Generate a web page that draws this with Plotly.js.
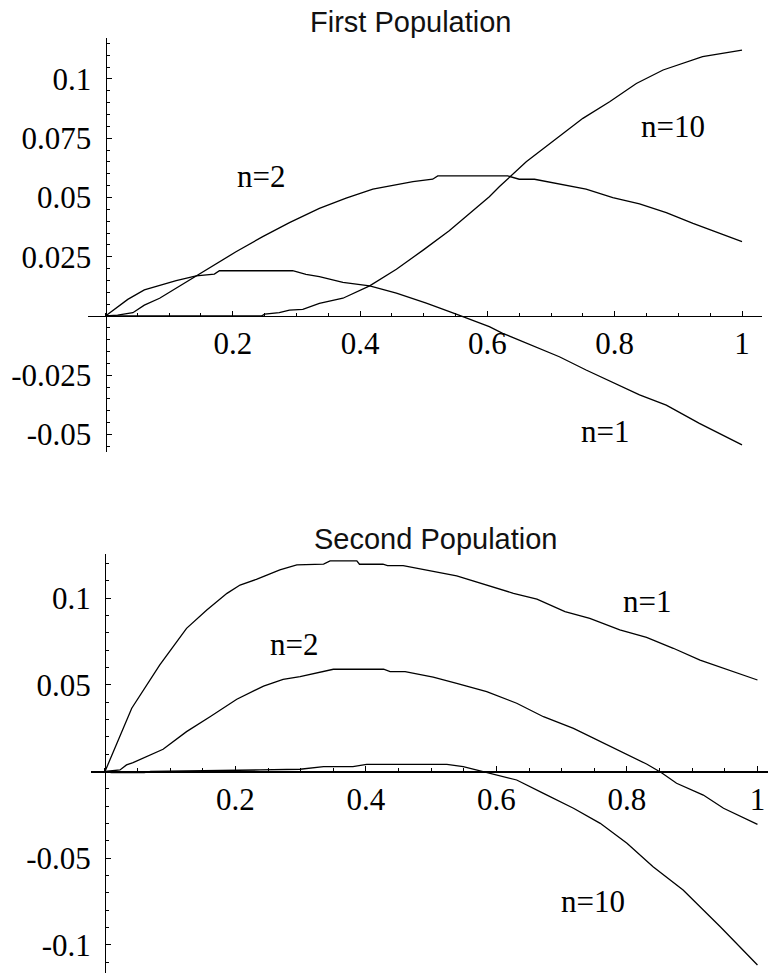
<!DOCTYPE html>
<html>
<head>
<meta charset="utf-8">
<script src="https://cdn.plot.ly/plotly-3.0.1.min.js"></script>
<style>
html,body{margin:0;padding:0;background:#fff;}
#chart{width:769px;height:974px;}
</style>
</head>
<body>
<div id="chart"></div>
<script>
// ---------- DATA ----------
// First Population
const firstN1X = [0, 0.035, 0.061, 0.085, 0.111, 0.1425, 0.171, 0.179, 0.294, 0.315, 0.336, 0.373, 0.415, 0.457, 0.504, 0.551, 0.603, 0.624, 0.713, 0.755, 0.839, 0.881, 0.933, 1.0];
const firstN1Y = [0, 0.0070, 0.0110, 0.0128, 0.0149, 0.0169, 0.0177, 0.0191, 0.0191, 0.0176, 0.0166, 0.0142, 0.0127, 0.0096, 0.0054, 0.0008, -0.0045, -0.0073, -0.0172, -0.0228, -0.0333, -0.0376, -0.0453, -0.0544];

const firstN2X = [0, 0.019, 0.043, 0.061, 0.085, 0.111, 0.1425, 0.174, 0.205, 0.247, 0.289, 0.336, 0.378, 0.42, 0.462, 0.483, 0.514, 0.522, 0.632, 0.650, 0.674, 0.713, 0.755, 0.797, 0.839, 0.881, 0.923, 1.0];
const firstN2Y = [0, 0.0004, 0.0014, 0.0046, 0.0075, 0.0117, 0.0169, 0.0222, 0.0271, 0.0335, 0.0394, 0.0454, 0.0497, 0.0535, 0.0555, 0.0567, 0.0577, 0.0591, 0.0591, 0.0577, 0.0577, 0.0557, 0.0535, 0.0499, 0.0473, 0.0436, 0.0391, 0.0314];

const firstN10X = [0, 0.245, 0.25, 0.273, 0.289, 0.31, 0.336, 0.373, 0.415, 0.457, 0.499, 0.540, 0.603, 0.619, 0.661, 0.750, 0.792, 0.834, 0.876, 0.938, 1.0];
const firstN10Y = [0, 0, 0.0008, 0.0014, 0.0025, 0.0028, 0.0053, 0.0075, 0.0127, 0.0197, 0.0278, 0.0360, 0.0503, 0.0546, 0.0651, 0.0834, 0.0904, 0.0981, 0.1038, 0.1094, 0.1122];

// Second Population
const secondN1X = [0, 0.041, 0.084, 0.125, 0.156, 0.187, 0.207, 0.232, 0.268, 0.294, 0.335, 0.345, 0.386, 0.390, 0.426, 0.433, 0.457, 0.539, 0.626, 0.662, 0.705, 0.743, 0.789, 0.830, 0.871, 0.912, 1.0];
const secondN1Y = [0, 0.0365, 0.0615, 0.0826, 0.0932, 0.1028, 0.1076, 0.1109, 0.1163, 0.1192, 0.1197, 0.1215, 0.1215, 0.1196, 0.1196, 0.1188, 0.1188, 0.1129, 0.1028, 0.0994, 0.0922, 0.0884, 0.0817, 0.0774, 0.0711, 0.0643, 0.0528];

const secondN2X = [0, 0.023, 0.033, 0.043, 0.089, 0.125, 0.161, 0.202, 0.243, 0.273, 0.299, 0.335, 0.350, 0.427, 0.437, 0.460, 0.503, 0.539, 0.585, 0.631, 0.672, 0.718, 0.759, 0.800, 0.830, 0.853, 0.876, 0.917, 0.948, 1.0];
const secondN2Y = [0, 0.0009, 0.0038, 0.0051, 0.0128, 0.0230, 0.0316, 0.0417, 0.0493, 0.0532, 0.0547, 0.0576, 0.0590, 0.0590, 0.0576, 0.0576, 0.0544, 0.0509, 0.0461, 0.0394, 0.0316, 0.0249, 0.0172, 0.0095, 0.0043, -0.0007, -0.0068, -0.0136, -0.0212, -0.0305];

const secondN10X = [0, 0.01, 0.06, 0.07, 0.2375, 0.299, 0.335, 0.38, 0.401, 0.524, 0.549, 0.570, 0.590, 0.631, 0.672, 0.718, 0.759, 0.800, 0.840, 0.886, 0.943, 1.0];
const secondN10Y = [0, -0.0006, -0.0006, 0, 0.0009, 0.0013, 0.0028, 0.0028, 0.0041, 0.0041, 0.0028, 0.0009, -0.0010, -0.0049, -0.0126, -0.0212, -0.0299, -0.0414, -0.0549, -0.0684, -0.0896, -0.1117];

// Tick labels
const xTickVals = [0.2, 0.4, 0.6, 0.8, 1];
const xTickText = ["0.2", "0.4", "0.6", "0.8", "1"];
const firstYTickVals = [-0.05, -0.025, 0.025, 0.05, 0.075, 0.1];
const firstYTickText = ["-0.05", "-0.025", "0.025", "0.05", "0.075", "0.1"];
const secondYTickVals = [-0.1, -0.05, 0.05, 0.1];
const secondYTickText = ["-0.1", "-0.05", "0.05", "0.1"];

// Titles and curve labels
const titles = ["First Population", "Second Population"];
const firstLabels = ["n=2", "n=10", "n=1"];
const firstLabelX = [0.2446, 0.891, 0.784];
const firstLabelY = [0.0588, 0.0799, -0.0488];
const secondLabels = ["n=1", "n=2", "n=10"];
const secondLabelX = [0.830, 0.289, 0.748];
const secondLabelY = [0.098, 0.073, -0.0751];

// ---------- LAYOUT ----------
const W = 769, H = 974;
const fx = p => p / W;
const fy = p => 1 - p / H;

const serif = "Liberation Serif, Times New Roman, Times, serif";
const sans = "Liberation Sans, Arial, Helvetica, sans-serif";
const tickFont = {family: serif, size: 31, color: "#000"};

// pixel frames of each panel
const panelA = {xd: [fx(88), fx(762)], yd: [fy(451.7), fy(38.3)], xr: [-0.0275, 1.0314], yr: [-0.05726, 0.11717]};
const panelB = {xd: [fx(90.7), fx(768.3)], yd: [fy(973.3), fy(554.3)], xr: [-0.0219, 1.0166], yr: [-0.11645, 0.12533]};

function zeroPos(dom, r) {
  return dom[0] + (0 - r[0]) / (r[1] - r[0]) * (dom[1] - dom[0]);
}

function xAxis(p) {
  return {
    domain: p.xd, range: p.xr, anchor: "free", position: zeroPos(p.yd, p.yr),
    showline: true, linecolor: "#000", linewidth: 1.3,
    showgrid: false, zeroline: false,
    tickmode: "array", tickvals: xTickVals, ticktext: xTickText,
    ticks: "inside", ticklen: 5, tickwidth: 1, tickcolor: "#000",
    minor: {ticks: "inside", dtick: 0.05, tick0: 0, ticklen: 3, tickwidth: 1, tickcolor: "#000"},
    tickfont: tickFont, ticklabelstandoff: 0,
    fixedrange: true
  };
}
function yAxis(p, vals, text, minorStep) {
  return {
    domain: p.yd, range: p.yr, anchor: "free", position: zeroPos(p.xd, p.xr),
    showline: true, linecolor: "#000", linewidth: 1.3,
    showgrid: false, zeroline: false,
    tickmode: "array", tickvals: vals, ticktext: text,
    ticks: "inside", ticklen: 5, tickwidth: 1, tickcolor: "#000",
    minor: {ticks: "inside", dtick: minorStep, tick0: 0, ticklen: 3, tickwidth: 1, tickcolor: "#000"},
    tickfont: tickFont, ticklabelstandoff: 8,
    fixedrange: true
  };
}

const lineStyle = {color: "#000", width: 1.3};
const traces = [
  {x: firstN1X, y: firstN1Y, xaxis: "x", yaxis: "y", mode: "lines", line: lineStyle},
  {x: firstN2X, y: firstN2Y, xaxis: "x", yaxis: "y", mode: "lines", line: lineStyle},
  {x: firstN10X, y: firstN10Y, xaxis: "x", yaxis: "y", mode: "lines", line: lineStyle},
  {x: secondN1X, y: secondN1Y, xaxis: "x2", yaxis: "y2", mode: "lines", line: lineStyle},
  {x: secondN2X, y: secondN2Y, xaxis: "x2", yaxis: "y2", mode: "lines", line: lineStyle},
  {x: secondN10X, y: secondN10Y, xaxis: "x2", yaxis: "y2", mode: "lines", line: lineStyle}
];

const annotations = [];
firstLabels.forEach((t, i) => annotations.push({
  text: t, x: firstLabelX[i], y: firstLabelY[i], xref: "x", yref: "y",
  showarrow: false, xanchor: "center", yanchor: "middle",
  font: {family: serif, size: 31, color: "#000"}
}));
secondLabels.forEach((t, i) => annotations.push({
  text: t, x: secondLabelX[i], y: secondLabelY[i], xref: "x2", yref: "y2",
  showarrow: false, xanchor: "center", yanchor: "middle",
  font: {family: serif, size: 31, color: "#000"}
}));
annotations.push({
  text: titles[0], x: fx(411), y: fy(22), xref: "paper", yref: "paper",
  showarrow: false, xanchor: "center", yanchor: "middle",
  font: {family: sans, size: 29, color: "#111"}
});
annotations.push({
  text: titles[1], x: fx(435), y: fy(539), xref: "paper", yref: "paper",
  showarrow: false, xanchor: "center", yanchor: "middle",
  font: {family: sans, size: 29, color: "#111"}
});

const layout = {
  width: W, height: H,
  margin: {l: 0, r: 0, t: 0, b: 0},
  paper_bgcolor: "#fff", plot_bgcolor: "rgba(0,0,0,0)",
  showlegend: false,
  xaxis: xAxis(panelA),
  yaxis: yAxis(panelA, firstYTickVals, firstYTickText, 0.005),
  xaxis2: xAxis(panelB),
  yaxis2: yAxis(panelB, secondYTickVals, secondYTickText, 0.01),
  annotations: annotations,
  hovermode: false
};

Plotly.newPlot("chart", traces, layout, {staticPlot: true, displayModeBar: false});
</script>
</body>
</html>
